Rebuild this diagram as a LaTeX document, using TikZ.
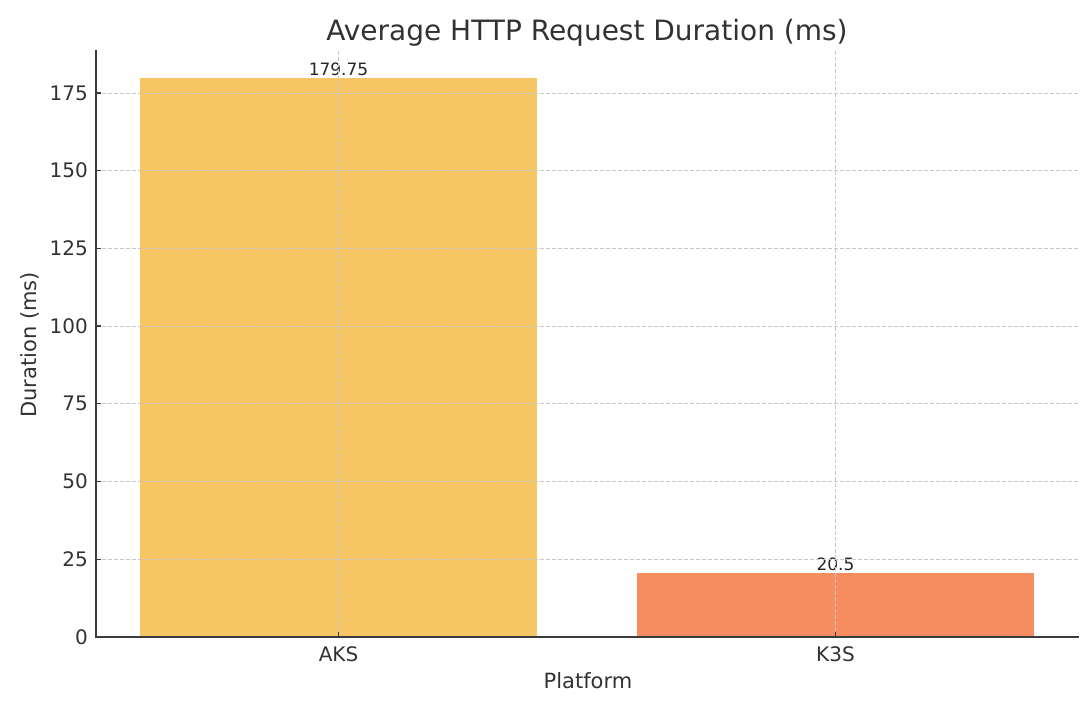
\documentclass[tikz,border=0pt]{standalone}
\usepackage{fontspec}
\setmainfont{DejaVu Sans}
\usetikzlibrary{positioning}
\definecolor{aksbar}{RGB}{246,197,100}
\definecolor{kthreebar}{RGB}{245,141,96}
\definecolor{spinecol}{RGB}{60,60,60}
\definecolor{textcol}{RGB}{50,50,50}
\definecolor{gridcol}{RGB}{200,200,200}

\begin{document}
\begin{tikzpicture}[x=1pt,y=1pt,
  ticklabel/.style={font=\fontsize{20}{24}\selectfont, text=textcol, inner sep=0pt},
  valuelabel/.style={font=\fontsize{17}{20}\selectfont, text=black!85, inner sep=2pt},
  axislabel/.style={font=\fontsize{21}{25}\selectfont, text=textcol},
  gridline/.style={gridcol, dashed, dash pattern=on 4pt off 2pt, line width=0.8pt},
  spine/.style={spinecol, line width=1.6pt},
  tickmark/.style={spinecol, line width=1.3pt}]
\useasboundingbox (0,0) rectangle (1083,704);
\node[font=\fontsize{28}{32}\selectfont, text=textcol] (title) at (587,671) {Average HTTP Request Duration (ms)};
\node[axislabel, rotate=90] (ylab) at (30,359) {Duration (ms)};
\node[axislabel] (xlab) at (588,23) {Platform};
\begin{scope}[shift={(338.5,67)}, x=497pt, y=3.109pt]
% bars
\fill[aksbar] (-0.4,0) rectangle (0.4,179.75);
\fill[kthreebar] (0.6,0) rectangle (1.4,20.5);
\node[valuelabel, above] (aksval) at (0,179.75) {179.75};
\node[valuelabel, above] (kthreeval) at (1,20.5) {20.5};
% grid
\foreach \v in {25,50,...,175}
  \draw[gridline] (-0.488,\v) -- (1.49,\v);
\foreach \c in {0,1}
  \draw[gridline] (\c,0) -- (\c,188.7);
% axes
\draw[spine] (-0.488,188.7) -- (-0.488,0) -- (1.49,0);
\foreach \v in {0,25,...,175}{
  \draw[tickmark] (-0.488,\v) -- ++(5pt,0);
  \node[ticklabel, left=8pt] (ytick\v) at (-0.488,\v) {\v};
}
\draw[tickmark] (0,0) -- ++(0,5pt);
\draw[tickmark] (1,0) -- ++(0,5pt);
\node[ticklabel, below=9pt] (aks) at (0,0) {AKS};
\node[ticklabel, below=9pt] (kthree) at (1,0) {K3S};
\end{scope}
\end{tikzpicture}
\end{document}
